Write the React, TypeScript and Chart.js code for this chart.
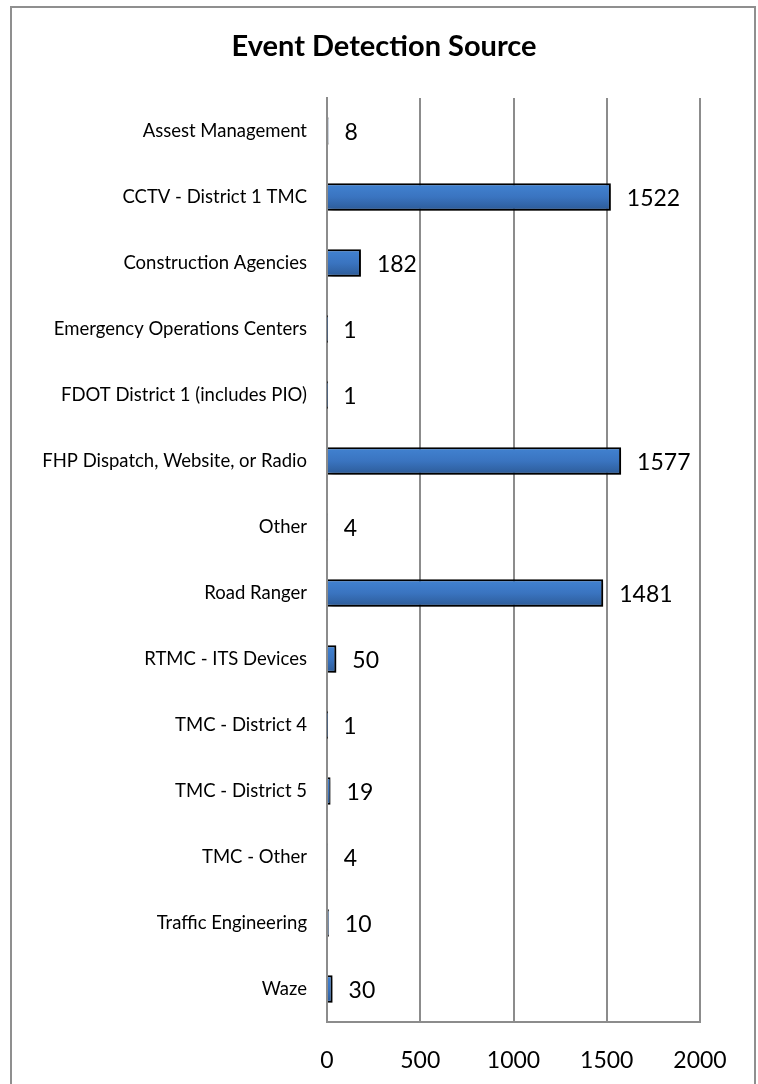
import React, { useEffect, useRef } from "react";
import { Chart, registerables } from "chart.js";

Chart.register(...registerables);

const titleText = "Event Detection Source";
const categories = [
  "Assest Management",
  "CCTV - District 1 TMC",
  "Construction Agencies",
  "Emergency Operations Centers",
  "FDOT District 1 (includes PIO)",
  "FHP Dispatch, Website, or Radio",
  "Other",
  "Road Ranger",
  "RTMC - ITS Devices",
  "TMC - District 4",
  "TMC - District 5",
  "TMC - Other",
  "Traffic Engineering",
  "Waze",
];
const counts = [8, 1522, 182, 1, 1, 1577, 4, 1481, 50, 1, 19, 4, 10, 30];
const xTicks = [0, 500, 1000, 1500, 2000];

const FONT = "Lato, 'Open Sans', sans-serif";

export default function App() {
  const ref = useRef<HTMLCanvasElement | null>(null);

  useEffect(() => {
    const canvas = ref.current;
    if (!canvas) return;

    const framePlugin = {
      id: "frame",
      beforeDraw(chart: any) {
        const c = chart.ctx;
        c.save();
        c.fillStyle = "#ffffff";
        c.fillRect(0, 0, chart.width, chart.height);
        c.strokeStyle = "#8f8f8f";
        c.lineWidth = 2;
        c.strokeRect(11, 7, 744, 1200);
        c.restore();
      },
    };

    const shadowPlugin = {
      id: "barShadowAndLabels",
      beforeDatasetsDraw(chart: any) {
        const c = chart.ctx;
        c.save();
        c.shadowColor = "rgba(0,0,0,0.38)";
        c.shadowBlur = 4;
        c.shadowOffsetX = 3;
        c.shadowOffsetY = 3;
      },
      afterDatasetsDraw(chart: any) {
        const c = chart.ctx;
        c.restore();
        const meta = chart.getDatasetMeta(0);
        c.save();
        c.fillStyle = "#000000";
        c.font = `23px ${FONT}`;
        c.textAlign = "left";
        c.textBaseline = "middle";
        meta.data.forEach((el: any, i: number) => {
          c.fillText(String(counts[i]), el.x + 16, el.y + 2);
        });
        c.restore();
      },
    };

    const chart = new Chart(canvas, {
      type: "bar",
      data: {
        labels: categories,
        datasets: [
          {
            data: counts,
            borderColor: "#000000",
            borderWidth: 2,
            categoryPercentage: 1,
            barPercentage: 0.42,
            backgroundColor: (ctx: any) => {
              const ch = ctx.chart;
              const area = ch.chartArea;
              if (!area || ctx.dataIndex === undefined || !ch.scales.y) return "#3a74c0";
              const y = ch.scales.y.getPixelForValue(ctx.dataIndex);
              const half = 14;
              const g = ch.ctx.createLinearGradient(0, y - half, 0, y + half);
              g.addColorStop(0, "#4283d2");
              g.addColorStop(0.5, "#3a74c0");
              g.addColorStop(1, "#2c5a96");
              return g;
            },
          },
        ],
      },
      options: {
        indexAxis: "y",
        responsive: false,
        animation: false,
        layout: { padding: { left: 10, right: 0, top: 0, bottom: 0 } },
        plugins: {
          legend: { display: false },
          tooltip: { enabled: false },
          title: {
            display: true,
            text: titleText,
            color: "#000000",
            font: { family: FONT, size: 29, weight: "bold", lineHeight: 1.2 },
            padding: { top: 29, bottom: 34.2 },
          },
        },
        scales: {
          x: {
            min: 0,
            max: 2000,
            afterBuildTicks: (s: any) => {
              s.ticks = xTicks.map((v) => ({ value: v }));
            },
            afterFit: (s: any) => {
              s.height = 62;
            },
            grid: { color: "#8c8c8c", lineWidth: 2, drawTicks: false },
            border: { color: "#8c8c8c", width: 2 },
            ticks: {
              color: "#000000",
              padding: 25,
              font: { family: FONT, size: 23 },
              maxRotation: 0,
              callback: (v: any) => String(v),
            },
          },
          y: {
            afterFit: (s: any) => {
              s.width = 317;
            },
            grid: { display: false, drawTicks: false },
            border: { color: "#8c8c8c", width: 2 },
            ticks: {
              color: "#000000",
              padding: 20,
              font: { family: FONT, size: 18.5 },
              autoSkip: false,
            },
          },
          yRight: {
            type: "linear",
            position: "right",
            afterFit: (s: any) => {
              s.width = 58;
            },
            grid: { display: false, drawTicks: false },
            border: { display: false },
            ticks: { display: false },
          },
        },
      },
      plugins: [framePlugin, shadowPlugin],
    } as any);

    return () => chart.destroy();
  }, []);

  return (
    <div style={{ position: "absolute", left: 0, top: 0, width: 758, height: 1084, overflow: "hidden" }}>
      <canvas ref={ref} width={758} height={1084} style={{ display: "block" }} />
    </div>
  );
}
